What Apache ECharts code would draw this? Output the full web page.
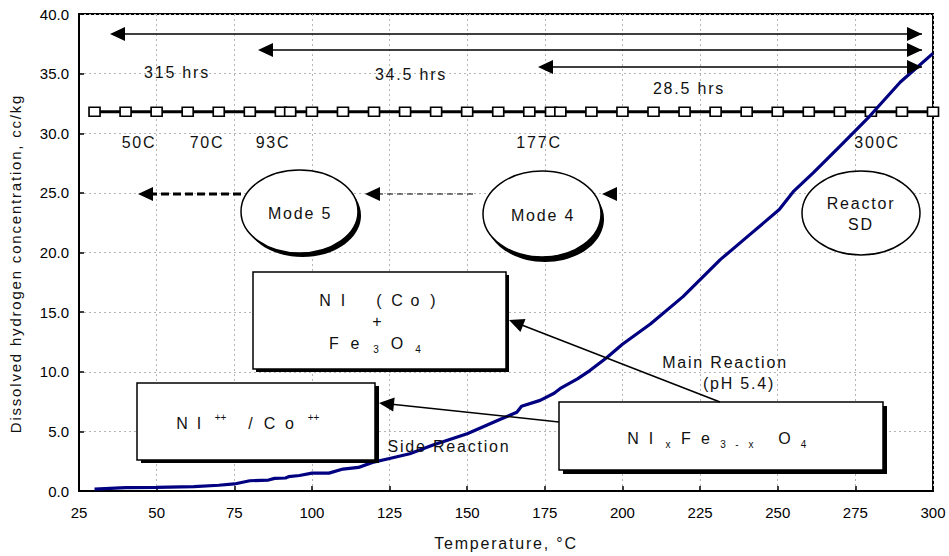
<!DOCTYPE html>
<html><head><meta charset="utf-8">
<script src="https://cdn.jsdelivr.net/npm/echarts@6/dist/echarts.min.js"></script>
<style>
html,body{margin:0;padding:0;background:#fff;}
#c{width:949px;height:556px;}
#c text[style*="Arial"]{letter-spacing:1.8px;}
</style></head><body><div id="c"></div>
<script>
// ---- data ----
const tempC = [30, 40, 50, 62, 70, 75, 80, 86, 88, 91.5, 92.5, 96, 100, 105.5, 110, 115, 119.5, 125, 131.5, 139, 150, 160.5, 166, 167.5, 173.5, 178, 180, 185.5, 189.5, 195, 200, 209, 219.5, 231.5, 241, 250.5, 255, 261.5, 270, 279.5, 289.5, 300];
const h2Conc = [0.15, 0.28, 0.31, 0.36, 0.48, 0.59, 0.86, 0.92, 1.06, 1.09, 1.2, 1.3, 1.5, 1.5, 1.84, 1.98, 2.4, 2.73, 3.12, 3.85, 4.8, 6.0, 6.6, 7.1, 7.6, 8.2, 8.6, 9.4, 10.1, 11.2, 12.3, 14.0, 16.3, 19.4, 21.5, 23.6, 25.1, 26.7, 28.9, 31.4, 34.3, 36.7];
const markerTemps = [30, 40, 50, 60, 70, 80, 90, 93, 100, 110, 120, 130, 140, 150, 160, 170, 177, 180, 190, 200, 210, 220, 230, 240, 250, 260, 270, 280, 290, 300];
const markerLevel = 31.8;
const xTickRange = [25, 300, 25];
const yTickRange = [0, 40, 5];
const axisNames = ['Temperature, °C', 'Dissolved hydrogen concentration, cc/kg'];

const chart = echarts.init(document.getElementById('c'), null, {renderer: 'svg'});

const ANN = 'Arial';
const TICK = 'Liberation Sans';

function arrow(x1, y1, x2, y2, opt) {
  opt = opt || {};
  const len = opt.len || 15, half = opt.half || 7;
  const dx = x2 - x1, dy = y2 - y1, L = Math.hypot(dx, dy);
  const ux = dx / L, uy = dy / L;
  const bx = x2 - ux * len, by = y2 - uy * len;
  const px = -uy * half, py = ux * half;
  const els = [];
  if (!opt.headOnly) {
    els.push({type: 'line', z: 30, shape: {x1: x1, y1: y1, x2: bx + ux * 2, y2: by + uy * 2},
      style: {stroke: '#000', lineWidth: opt.width || 1.5, lineDash: opt.dash || null}});
  }
  els.push({type: 'polygon', z: 31, shape: {points: [[x2, y2], [bx + px, by + py], [bx - px, by - py]]},
    style: {fill: '#000', stroke: null}});
  return els;
}
function text(t, x, y, size) {
  return {type: 'text', z: 40, x: x, y: y,
    style: {text: t, fontSize: size || 16, fontFamily: ANN, fill: '#111', align: 'center', verticalAlign: 'middle'}};
}
// letter-spaced rich text built from [char, kind, width] tokens
function spaced(tokens, x, y) {
  const rich = {};
  let str = '';
  tokens.forEach(function (t) {
    const name = t[1] + t[2];
    if (!rich[name]) {
      const base = {width: t[2], align: 'center', fontFamily: TICK, fill: '#111'};
      if (t[1] === 'm') { base.fontSize = 16; base.lineHeight = 22; }
      if (t[1] === 'sup') { base.fontSize = 10; base.lineHeight = 10; base.verticalAlign = 'top'; }
      if (t[1] === 'sub') { base.fontSize = 10; base.lineHeight = 14; base.verticalAlign = 'bottom'; }
      if (t[1] === 'subb') { base.fontSize = 10; base.lineHeight = 16; base.verticalAlign = 'bottom'; }
      rich[name] = base;
    }
    str += '{' + name + '|' + t[0] + '}';
  });
  return {type: 'text', z: 40, x: x, y: y,
    style: {text: str, rich: rich, fontSize: 16, fontFamily: TICK, lineHeight: 22, fill: '#111', align: 'center', verticalAlign: 'middle'}};
}
function ellipse(cx, cy, rx, ry, shadow) {
  const els = [];
  if (shadow) els.push({type: 'ellipse', z: 20, shape: {cx: cx + shadow[0], cy: cy + shadow[1], rx: rx, ry: ry}, style: {fill: '#000'}});
  els.push({type: 'ellipse', z: 21, shape: {cx: cx, cy: cy, rx: rx, ry: ry}, style: {fill: '#fff', stroke: '#000', lineWidth: 1.5}});
  return els;
}
function box(x, y, w, h, shadow) {
  return [
    {type: 'rect', z: 20, shape: {x: x + shadow[0], y: y + shadow[1], width: w, height: h}, style: {fill: '#000'}},
    {type: 'rect', z: 21, shape: {x: x, y: y, width: w, height: h}, style: {fill: '#fff', stroke: '#000', lineWidth: 1.5}}
  ];
}

let g = [];
// duration arrows
[[34, 110], [50, 258], [67, 538]].forEach(function (r) {
  g = g.concat(arrow(922, r[0], r[1], r[0]));
  g = g.concat(arrow(r[1] + 20, r[0], 922, r[0], {headOnly: true}));
});
g.push(text('315 hrs', 177, 72), text('34.5 hrs', 411, 74), text('28.5 hrs', 689, 88));
g.push(text('50C', 139, 142), text('70C', 207, 142), text('93C', 273, 142), text('177C', 539, 142), text('300C', 877, 142));
// modes
g = g.concat(ellipse(299.5, 211.5, 58.5, 41.5, [3, 4]));
g = g.concat(ellipse(542, 214, 59, 43, [3, 5]));
g = g.concat(ellipse(861, 213, 59, 42, null));
g.push(text('Mode 5', 300, 213), text('Mode 4', 543, 215), text('Reactor', 861, 203), text('SD', 861, 224));
g = g.concat(arrow(241, 194, 138, 194, {width: 3, dash: [8, 4]}));
g = g.concat(arrow(473, 194, 365, 194, {width: 1, dash: [6, 4]}));
g = g.concat(arrow(640, 194, 602, 194, {headOnly: true}));
// reaction boxes
g = g.concat(box(253, 272, 253, 97, [3, 3]));
g = g.concat(box(137, 383, 238, 77, [4, 3]));
g = g.concat(box(559, 402, 324, 68, [4, 4]));
g.push(spaced([['N', 'm', 18], ['I', 'm', 18], [' ', 'm', 18], ['(', 'm', 18], ['C', 'm', 18], ['o', 'm', 18], [')', 'm', 18]], 379, 300));
g.push(spaced([['+', 'm', 18]], 377, 321));
g.push(spaced([['F', 'm', 21], ['e', 'm', 21], ['3', 'subb', 21], ['O', 'm', 21], ['4', 'subb', 21]], 376, 343));
g.push(spaced([['N', 'm', 17], ['I', 'm', 17], ['++', 'sup', 26], [' ', 'm', 8], ['/', 'm', 18], ['C', 'm', 20], ['o', 'm', 20], ['++', 'sup', 28]], 250.5, 423));
g.push(spaced([['N', 'm', 19], ['I', 'm', 17], ['x', 'sub', 17], ['F', 'm', 19], ['e', 'm', 20], ['3', 'sub', 15], ['-', 'sub', 13], ['x', 'sub', 15], [' ', 'm', 16], ['O', 'm', 20], ['4', 'sub', 18]], 718, 438));
g = g.concat(arrow(720, 402, 509, 320));
g = g.concat(arrow(559, 422, 379, 403));
g.push(text('Main Reaction', 725, 362), text('(pH 5.4)', 739, 383), text('Side Reaction', 449, 446));

const tickLabel = {color: '#000', fontSize: 15, fontFamily: TICK};
const option = {
  animation: false,
  backgroundColor: '#fff',
  grid: {left: 79, right: 16, top: 14, bottom: 64, show: true, borderColor: '#000', borderWidth: 2, backgroundColor: 'transparent'},
  xAxis: {
    type: 'value', min: xTickRange[0], max: xTickRange[1], interval: xTickRange[2],
    name: axisNames[0], nameLocation: 'middle', nameGap: 44,
    nameTextStyle: {fontSize: 16, fontFamily: ANN, color: '#111'},
    axisLine: {lineStyle: {color: '#000', width: 2}},
    axisTick: {inside: true, length: 5, lineStyle: {color: '#000', width: 1.5}},
    axisLabel: Object.assign({margin: 14}, tickLabel),
    splitLine: {show: true, lineStyle: {color: '#b5b5b5', type: [2, 3], width: 1}}
  },
  yAxis: {
    type: 'value', min: yTickRange[0], max: yTickRange[1], interval: yTickRange[2],
    name: axisNames[1], nameLocation: 'middle', nameGap: 56, nameRotate: 90,
    nameTextStyle: {fontSize: 15, fontFamily: ANN, color: '#111', padding: [0, 22, 0, 0]},
    axisLine: {show: true, lineStyle: {color: '#000', width: 2}},
    axisTick: {show: true, inside: true, length: 5, lineStyle: {color: '#000', width: 1.5}},
    axisLabel: Object.assign({margin: 10, formatter: function (v) { return v.toFixed(1); }}, tickLabel),
    splitLine: {show: true, lineStyle: {color: '#b5b5b5', type: [2, 3], width: 1}}
  },
  series: [
    {
      type: 'line', name: 'modes', z: 3,
      data: markerTemps.map(function (t) { return [t, markerLevel]; }),
      symbol: 'rect', symbolSize: [11, 9], showSymbol: true,
      lineStyle: {color: '#000', width: 3},
      itemStyle: {color: '#fff', borderColor: '#000', borderWidth: 1.5}
    },
    {
      type: 'line', name: 'H2', z: 5,
      data: tempC.map(function (t, i) { return [t, h2Conc[i]]; }),
      symbol: 'none', lineStyle: {color: '#000080', width: 3.2}
    }
  ],
  graphic: {elements: g}
};
chart.setOption(option);
</script></body></html>
